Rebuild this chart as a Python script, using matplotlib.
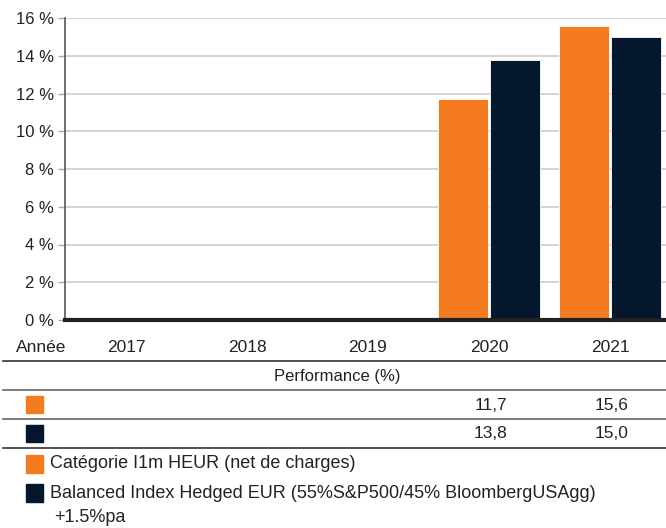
import numpy as np
import matplotlib
matplotlib.use("Agg")
import matplotlib.pyplot as plt
from matplotlib.lines import Line2D
from matplotlib.patches import Rectangle

plt.rcParams["font.family"] = ["Liberation Sans", "DejaVu Sans"]

years = ["2017", "2018", "2019", "2020", "2021"]
fund = [np.nan, np.nan, np.nan, 11.7, 15.6]
index = [np.nan, np.nan, np.nan, 13.8, 15.0]
fund_label = "Catégorie I1m HEUR (net de charges)"
index_label = "Balanced Index Hedged EUR (55%S&P500/45% BloombergUSAgg)"
index_label2 = "+1.5%pa"
yticks = [0, 2, 4, 6, 8, 10, 12, 14, 16]

ORANGE = "#F47B20"
NAVY = "#04172D"
TXT = "#222222"

W, H = 666, 528
fig = plt.figure(figsize=(W / 100, H / 100), dpi=100)

# axes: left 65px, right 666px, top 18px (16%), bottom 320px (0%)
ax = fig.add_axes([65 / W, 1 - 320 / H, (666 - 65) / W, (320 - 18) / H])
x = np.arange(len(years))
bw = 0.42
ax.bar(x - bw / 2 - 0.005, fund, bw, color=ORANGE, edgecolor="white", linewidth=0.6, zorder=2)
ax.bar(x + bw / 2 + 0.005, index, bw, color=NAVY, edgecolor="white", linewidth=0.6, zorder=2)

ax.set_xlim(-0.504, 4.463)
ax.set_ylim(0, 16)
ax.set_yticks(yticks)
ax.set_yticklabels([f"{t} %" for t in yticks], fontsize=12, color=TXT)
ax.set_xticks([])
ax.grid(axis="y", color="#cccccc", linewidth=1.2, zorder=0)
ax.set_axisbelow(True)
for s in ["top", "right"]:
    ax.spines[s].set_visible(False)
ax.spines["left"].set_color("#555555")
ax.spines["left"].set_linewidth(1.2)
ax.spines["bottom"].set_color("#222222")
ax.spines["bottom"].set_linewidth(3)
ax.tick_params(axis="y", length=5, width=1, color="#aaaaaa", pad=3)

# table below the chart, in pixel coordinates mapped to figure fraction
def fx(px):
    return px / W

def fy(py):
    return 1 - py / H

def hline(py, color="#444444", lw=1.2):
    fig.add_artist(Line2D([fx(3), fx(666)], [fy(py), fy(py)], color=color, linewidth=lw))

def cat_x(i):
    # x of category centre through the axes transform
    disp = ax.transData.transform((i, 0))
    return fig.transFigure.inverted().transform(disp)[0]

fig.text(fx(16), fy(348), "Année", fontsize=12.5, color=TXT, va="center", ha="left")
for i, yr in enumerate(years):
    fig.text(cat_x(i), fy(348), yr, fontsize=12.5, color=TXT, va="center", ha="center")

hline(361, "#333333")
fig.text(fx(337), fy(377), "Performance (%)", fontsize=12, color=TXT, va="center", ha="center")
hline(390, "#666666")
hline(419, "#666666")
hline(448, "#333333")

for row, (vals, col, py) in enumerate([(fund, ORANGE, 405), (index, NAVY, 434)]):
    fig.add_artist(Rectangle((fx(26), fy(py + 8)), 17 / W, 17 / H, color=col,
                             transform=fig.transFigure))
    for i, v in enumerate(vals):
        if not np.isnan(v):
            fig.text(cat_x(i) + 2 / W, fy(py), f"{v:.1f}".replace(".", ","), fontsize=12.5,
                     color=TXT, va="center", ha="center")

# legend
fig.add_artist(Rectangle((fx(26), fy(473)), 17 / W, 18 / H, color=ORANGE, transform=fig.transFigure))
fig.text(fx(50), fy(464), fund_label, fontsize=13, color=TXT, va="center", ha="left")
fig.add_artist(Rectangle((fx(26), fy(502)), 17 / W, 18 / H, color=NAVY, transform=fig.transFigure))
fig.text(fx(50), fy(493), index_label, fontsize=13, color=TXT, va="center", ha="left")
fig.text(fx(54), fy(518), index_label2, fontsize=13, color=TXT, va="center", ha="left")

fig.savefig("out.png", dpi=100)
